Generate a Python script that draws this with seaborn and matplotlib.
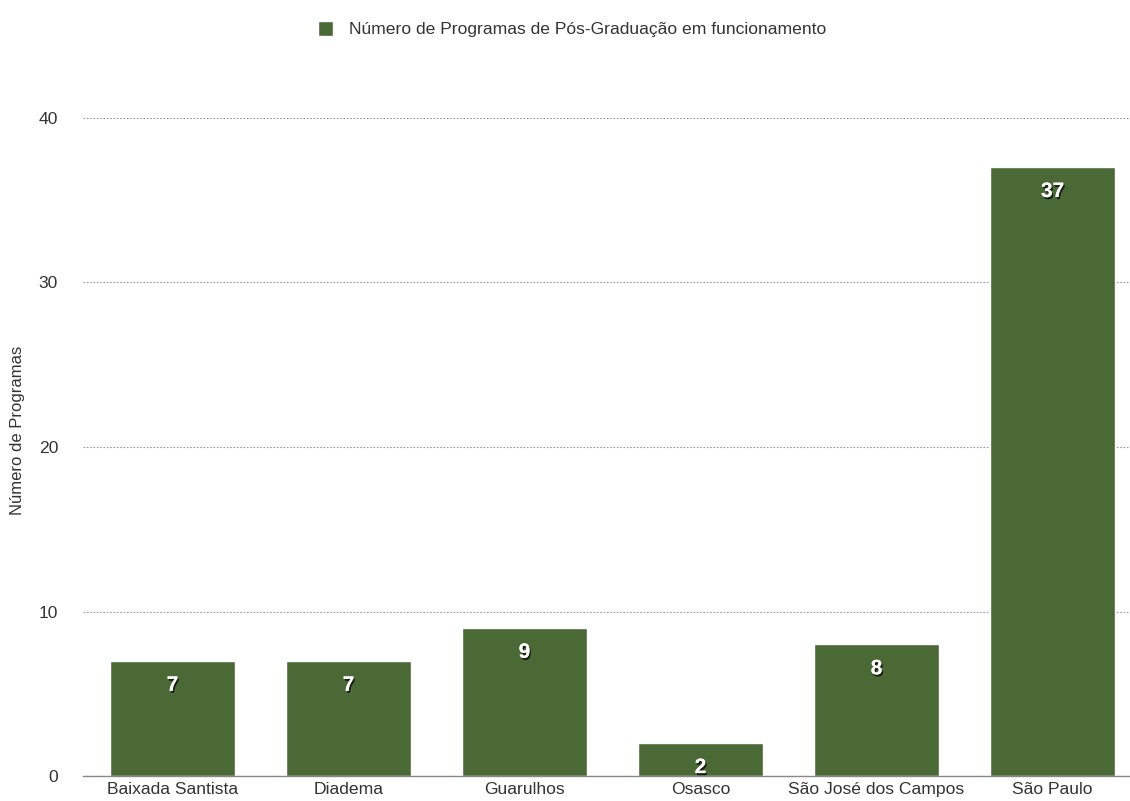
import matplotlib
matplotlib.use("Agg")
import matplotlib.pyplot as plt
import matplotlib.patheffects as pe
import seaborn as sns
import pandas as pd

campi = ["Baixada Santista", "Diadema", "Guarulhos", "Osasco", "São José dos Campos", "São Paulo"]
programas = [7, 7, 9, 2, 8, 37]
serie = "Número de Programas de Pós-Graduação em funcionamento"

df = pd.DataFrame({"campus": campi, "n": programas})

sns.set_theme(style="white")
plt.rcParams["font.family"] = ["Liberation Sans", "DejaVu Sans"]

fig = plt.figure(figsize=(11.3, 8.01), dpi=100)
ax = fig.add_axes([0.0735, 0.031, 0.9265, 0.863])

color = "#4a6934"
sns.barplot(data=df, x="campus", y="n", color=color, width=0.71, ax=ax,
            saturation=1, label=serie)

ax.set_xlim(-0.508, 5.44)
ax.set_ylim(0, 42)
ax.set_yticks([0, 10, 20, 30, 40])
ax.yaxis.grid(True, linestyle=(0, (1.5, 1.5)), color="#999999", linewidth=0.8)
ax.set_axisbelow(True)
for s in ["top", "right", "left"]:
    ax.spines[s].set_visible(False)
ax.spines["bottom"].set_color("#888888")
ax.spines["bottom"].set_linewidth(1)
ax.tick_params(axis="both", length=0, labelsize=12.6, colors="#333333")
ax.tick_params(axis="y", pad=18)
ax.tick_params(axis="x", pad=4)
ax.set_xlabel("")
ax.set_ylabel("Número de Programas", fontsize=12, color="#333333")
ax.yaxis.set_label_coords(-0.055, 0.5)

for i, v in enumerate(programas):
    ax.text(i, v - 0.9, str(v), ha="center", va="top", color="white",
            fontsize=15, fontweight="bold",
            path_effects=[pe.withSimplePatchShadow(offset=(1, -1.5), shadow_rgbFace="black", alpha=0.7), pe.Normal()])

leg = ax.legend(loc="upper center", bbox_to_anchor=(0.467, 1.115), frameon=False,
                fontsize=12.6, handlelength=0.9, handleheight=0.9, handletextpad=0.9)
for t in leg.get_texts():
    t.set_color("#333333")

fig.savefig("out.png", dpi=100)
